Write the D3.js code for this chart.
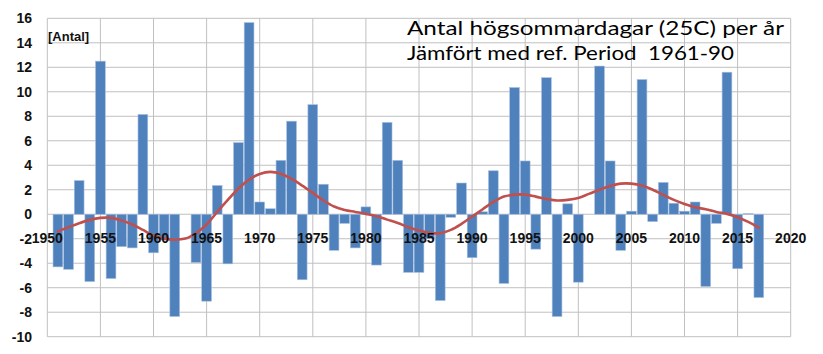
<!DOCTYPE html>
<html><head><meta charset="utf-8">
<script src="https://cdn.jsdelivr.net/npm/d3@7"></script>
<style>body{margin:0;background:#fff}svg{display:block}</style>
</head><body>
<svg id="c" width="823" height="354"></svg>
<script>
const years = d3.range(1951, 2018);
const anomaly = [-4.3,-4.5,2.75,-5.5,12.5,-5.25,-2.65,-2.75,8.15,-3.15,
 -2.1,-8.35,0,-3.95,-7.1,2.35,-4.05,5.85,15.65,1.0,
 0.45,4.4,7.6,-5.35,8.95,2.45,-2.95,-0.75,-2.75,0.6,
 -4.15,7.5,4.4,-4.75,-4.75,-2.0,-7.05,-0.25,2.55,-3.55,
 0.2,3.55,-5.65,10.35,4.35,-2.85,11.15,-8.35,0.85,-5.55,
 0,12.1,4.35,-2.95,0.25,11.0,-0.6,2.6,0.9,0.25,
 1.0,-5.9,-0.75,11.6,-4.45,0.05,-6.8];
const smooth = [-1.4,-1.06,-0.73,-0.46,-0.3,-0.3,-0.52,-0.84,-1.28,-1.74,
 -1.99,-2.08,-1.99,-1.55,-0.84,0.19,1.17,2.1,2.83,3.29,
 3.46,3.3,2.88,2.34,1.74,1.12,0.63,0.35,0.19,0.03,
 -0.16,-0.44,-0.71,-1.06,-1.33,-1.52,-1.55,-1.28,-0.79,-0.19,
 0.41,1.0,1.44,1.6,1.6,1.44,1.25,1.12,1.17,1.33,
 1.66,2.0,2.3,2.5,2.5,2.34,2.0,1.58,1.17,0.84,
 0.57,0.41,0.19,0.03,-0.24,-0.63,-1.1];
const xTicks = [1950,1955,1960,1965,1970,1975,1980,1985,1990,1995,2000,2005,2010,2015,2020];
const yTicks = [-10,-8,-6,-4,-2,0,2,4,6,8,10,12,14,16];
const titleLines = ["Antal högsommardagar (25C) per år", "Jämfört med ref. Period  1961-90"];
const unitLabel = "[Antal]";

const svg = d3.select("#c");
const x = d3.scaleLinear().domain([1950, 2020]).range([47.3, 790.7]);
const y = d3.scaleLinear().domain([-10, 16]).range([336.7, 18.3]);
const step = x(1951) - x(1950);
const bw = step * 0.92;

// grid
const g = svg.append("g");
g.selectAll("line.h").data(yTicks).join("line")
  .attr("x1", x(1950)).attr("x2", x(2020))
  .attr("y1", d => y(d)).attr("y2", d => y(d))
  .attr("stroke", "#c0c0c0").attr("stroke-width", 1);
g.selectAll("line.v").data(xTicks).join("line")
  .attr("y1", y(16)).attr("y2", y(-10))
  .attr("x1", d => x(d)).attr("x2", d => x(d))
  .attr("stroke", "#c0c0c0").attr("stroke-width", 1);

// bars
svg.append("g").selectAll("rect").data(years).join("rect")
  .attr("x", (d) => x(d) - bw / 2)
  .attr("width", bw)
  .attr("y", (d, i) => y(Math.max(0, anomaly[i])))
  .attr("height", (d, i) => Math.abs(y(anomaly[i]) - y(0)))
  .attr("fill", "#4f81bd")
  .attr("stroke", "#a9c0df").attr("stroke-width", 0.6);

// smoothed line
const line = d3.line().x((d, i) => x(years[i])).y(d => y(d)).curve(d3.curveCatmullRom);
svg.append("path").datum(smooth).attr("d", line)
  .attr("fill", "none").attr("stroke", "#c0504d").attr("stroke-width", 2.6)
  .attr("stroke-linecap", "round");

// x labels
svg.append("g").selectAll("text").data(xTicks).join("text")
  .attr("x", d => x(d)).attr("y", 242.5)
  .attr("text-anchor", "middle")
  .attr("font-family", "Liberation Sans, Arial, sans-serif")
  .attr("font-weight", "bold").attr("font-size", 14).attr("fill", "#111")
  .text(d => d);

// y labels
svg.append("g").selectAll("text").data(yTicks).join("text")
  .attr("x", 32).attr("y", d => y(d) + 5)
  .attr("text-anchor", "end")
  .attr("font-family", "Liberation Sans, Arial, sans-serif")
  .attr("font-weight", "bold").attr("font-size", 14).attr("fill", "#111")
  .text(d => d);

// unit label
svg.append("text").attr("x", 48).attr("y", 41)
  .attr("font-family", "Liberation Sans, Arial, sans-serif")
  .attr("font-weight", "bold").attr("font-size", 13).attr("fill", "#111")
  .text(unitLabel);

// title
const tl = [{w: 377, yb: 34.5}, {w: 327, yb: 59.5}];
svg.append("g").selectAll("text").data(titleLines).join("text")
  .attr("x", 407).attr("y", (d, i) => tl[i].yb)
  .attr("font-family", "Lato, sans-serif").attr("font-size", 20)
  .attr("fill", "#000")
  .attr("textLength", (d, i) => tl[i].w).attr("lengthAdjust", "spacingAndGlyphs")
  .style("white-space", "pre")
  .text(d => d);
</script>
</body></html>
